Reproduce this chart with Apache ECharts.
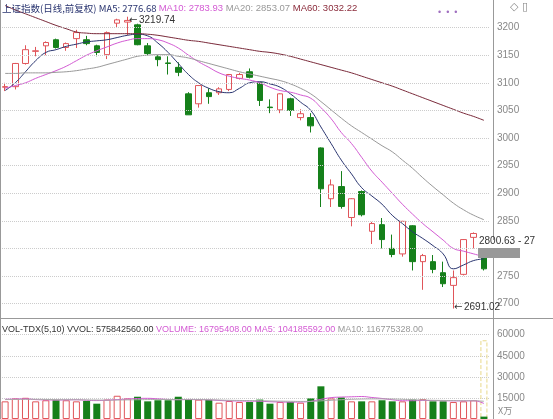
<!DOCTYPE html>
<html>
<head>
<meta charset="utf-8">
<script src="https://cdn.jsdelivr.net/npm/echarts@6/dist/echarts.min.js"></script>
<style>html,body{margin:0;padding:0;background:#fff}#main{width:553px;height:419px}</style>
</head>
<body>
<div id="main"></div>
<script>
// 日线数据 [open, close, low, high]
var dates = [];
for (var i = 1; i <= 48; i++) dates.push('D' + i);
var kData = [
  [3092,3093,3085,3100],[3093,3135,3088,3136],[3135,3160,3133,3168],[3157,3158,3148,3165],
  [3167,3173,3150,3175],[3178,3164,3162,3180],[3164,3171,3158,3173],[3180,3191,3163,3196],
  [3178,3171,3168,3185],[3167,3155,3148,3169],[3151,3191,3143,3193],[3208,3214,3200,3216],
  [3210,3213,3186,3219.74],[3205,3169,3168,3207],[3167,3153,3150,3172],[3147,3142,3130,3150],
  [3136,3135,3115,3148],[3128,3119,3112,3137],[3080,3042,3042,3083],[3062,3095,3055,3096],
  [3082,3075,3062,3090],[3082,3089,3078,3092],[3088,3115,3085,3116],[3108,3115,3106,3118],
  [3120,3110,3108,3126],[3100,3068,3058,3101],[3056,3055,3045,3070],[3051,3080,3045,3081],
  [3071,3050,3040,3073],[3037,3044,3032,3052],[3037,3022,3010,3045],[2982,2908,2875,2983],
  [2890,2915,2875,2925],[2912,2876,2872,2940],[2856,2890,2840,2891],[2903,2861,2858,2905],
  [2831,2845,2808,2848],[2843,2816,2800,2855],[2800,2789,2784,2825],[2790,2849,2785,2850],
  [2841,2776,2760,2842],[2776,2787,2725,2790],[2776,2762,2755,2788],[2756,2736,2730,2776],
  [2733,2747,2691.02,2760],[2753,2816,2751,2817],[2820,2827,2800,2829],[2783,2763,2760,2792]
];
var ma5 = [3086,3100,3120,3140,3155,3160,3166,3170,3174,3176,3178,3182,3186,3188,3185,3172,3155,3135,3115,3100,3090,3084,3082,3090,3100,3102,3098,3092,3080,3065,3050,3020,2990,2960,2935,2910,2895,2880,2860,2845,2830,2818,2805,2790,2763,2770,2778,2781];
var ma10 = [3090,3095,3100,3108,3115,3122,3130,3140,3150,3158,3165,3172,3177,3180,3180,3178,3172,3163,3150,3138,3128,3118,3112,3108,3105,3100,3092,3086,3083,3078,3072,3055,3035,3010,2990,2965,2940,2920,2900,2880,2862,2845,2830,2815,2800,2795,2790,2785];
var ma20 = [3117,3117,3118,3118,3118,3119,3120,3122,3125,3128,3133,3138,3143,3148,3150,3151,3151,3148,3145,3140,3135,3130,3125,3120,3116,3112,3108,3104,3098,3090,3080,3066,3051,3036,3022,3010,2998,2986,2975,2960,2945,2928,2912,2897,2882,2870,2860,2852];
var ma60 = [3240,3232,3225,3218,3211,3204,3198,3192,3190,3189,3189,3189,3189,3189,3188,3186,3183,3180,3177,3175,3172,3169,3166,3163,3160,3157,3155,3152,3148,3143,3138,3133,3128,3123,3118,3112,3106,3100,3094,3087,3080,3073,3066,3059,3052,3045,3039,3032];
// 成交量(万)
var volumes = [12560,14600,15080,12560,13330,13330,13330,12560,12820,10900,13800,16540,14600,15840,12560,13330,13330,15840,14090,13800,13570,11590,12820,12070,12070,13800,10900,12070,12070,11590,14600,23250,14600,15320,12560,12560,12560,13330,12560,12560,13800,14090,12560,12560,12070,12560,13330,1700];
var volMa5 = [14000,14200,14300,13800,13600,13500,13600,13700,13300,13100,13400,13800,14200,14600,14700,14300,13900,13700,13900,13800,13600,13200,12900,12800,12700,12600,12300,12100,12000,12100,12600,14000,15200,15600,15800,16000,15300,14600,13700,13000,13000,13200,13100,13000,12900,12900,13000,11000];
var volMa10 = [13800,13900,14000,14000,13900,13800,13700,13700,13600,13500,13400,13500,13600,13700,13800,13900,13900,13800,13800,13800,13700,13500,13300,13200,13100,13000,12800,12700,12600,12500,12500,12900,13300,13700,14000,14200,14300,14300,14200,14000,13700,13500,13300,13200,13100,13000,13000,12600];
var yTicks = [2700,2750,2800,2850,2900,2950,3000,3050,3100,3150,3200];

var UP = '#e0555a', DOWN = '#15801a';
var volBars = volumes.map(function (v, i) {
  var up = kData[i][1] >= kData[i][0];
  return { value: v, itemStyle: up ? { color: '#fff', borderColor: UP, borderWidth: 1 } : { color: DOWN } };
});
var ghost = volumes.map(function (v, i) { return i === 47 ? 56000 : '-'; });

var chart = echarts.init(document.getElementById('main'));
var font = 'Liberation Sans, Arial, sans-serif';
chart.setOption({
  animation: false,
  backgroundColor: '#fff',
  grid: [
    { left: -1, right: 64, top: 0, height: 331.2 },
    { left: -1, right: 64, top: 317.8, height: 103.2 }
  ],
  xAxis: [
    { type: 'category', data: dates, gridIndex: 0, boundaryGap: true, show: false },
    { type: 'category', data: dates, gridIndex: 1, boundaryGap: true, show: false }
  ],
  yAxis: [
    { gridIndex: 0, position: 'right', min: 2650, max: 3250, interval: 50, offset: 4,
      axisLine: { show: false }, axisTick: { show: false }, splitLine: { show: false },
      axisLabel: { color: '#888', fontSize: 10, fontFamily: font, margin: 4,
        formatter: function (v) { return (v >= 2700 && v <= 3200) ? v : ''; } } },
    { gridIndex: 1, position: 'right', min: 0, max: 72000, interval: 15000, offset: 4,
      axisLine: { show: false }, axisTick: { show: false },
      splitLine: { show: true, lineStyle: { color: '#ccc', type: 'dotted' } },
      axisLabel: { color: '#888', fontSize: 10, fontFamily: font, margin: 4,
        formatter: function (v) { return (v >= 15000 && v <= 60000) ? v : ''; } } }
  ],
  series: [
    { type: 'candlestick', xAxisIndex: 0, yAxisIndex: 0, data: kData, barWidth: 6,
      itemStyle: { color: '#fff', color0: DOWN, borderColor: UP, borderColor0: DOWN, borderWidth: 1 },
      markLine: { silent: true, symbol: 'none', label: { show: false },
        lineStyle: { color: '#ccc', type: 'dotted', width: 1 },
        data: yTicks.map(function (t) { return { yAxis: t }; }) } },
    { type: 'line', data: ma5, symbol: 'none', smooth: true, lineStyle: { color: '#2a3570', width: 1 } },
    { type: 'line', data: ma10, symbol: 'none', smooth: true, lineStyle: { color: '#d35ad3', width: 1 } },
    { type: 'line', data: ma20, symbol: 'none', smooth: true, lineStyle: { color: '#999', width: 1 } },
    { type: 'line', data: ma60, symbol: 'none', smooth: true, lineStyle: { color: '#7a2a3a', width: 1 } },
    { type: 'bar', xAxisIndex: 1, yAxisIndex: 1, data: volBars, barWidth: 7, barGap: '-100%' },
    { type: 'bar', xAxisIndex: 1, yAxisIndex: 1, data: ghost, barWidth: 7, barGap: '-100%', z: 1,
      itemStyle: { color: 'rgba(255,255,255,0)', borderColor: '#e8d88a', borderWidth: 1, borderType: 'dashed' } },
    { type: 'line', xAxisIndex: 1, yAxisIndex: 1, data: volMa5, symbol: 'none', smooth: true, lineStyle: { color: '#d35ad3', width: 1 } },
    { type: 'line', xAxisIndex: 1, yAxisIndex: 1, data: volMa10, symbol: 'none', smooth: true, lineStyle: { color: '#aaa', width: 1 } }
  ],
  graphic: [
    { type: 'rect', shape: { x: 0, y: 318, width: 553, height: 1 }, style: { fill: '#999' }, z: 10 },
    { type: 'rect', shape: { x: 493, y: 0, width: 1, height: 419 }, style: { fill: '#999' }, z: 10 },
    { type: 'rect', shape: { x: 0, y: 0, width: 1, height: 419 }, style: { fill: '#999' }, z: 10 },
    { type: 'rect', shape: { x: 478, y: 248, width: 42, height: 10 }, style: { fill: '#999' }, z: 10 },
    { type: 'text', left: 2, top: 3, z: 20, style: { fontFamily: font, fontSize: 9.5,
      text: '{a|上证指数(日线,前复权) MA5: 2776.68 }{b|MA10: 2783.93 }{c|MA20: 2853.07 }{d|MA60: 3032.22}',
      rich: { a: { fill: '#2a3570', fontSize: 9.5, fontFamily: 'Noto Sans CJK SC, sans-serif' }, b: { fill: '#d35ad3', fontSize: 9.5 },
        c: { fill: '#999', fontSize: 9.5 }, d: { fill: '#8a2a3a', fontSize: 9.5 } } } },
    { type: 'text', left: 2, top: 325, z: 20, style: { fontFamily: font, fontSize: 9,
      text: '{a|VOL-TDX(5,10) VVOL: 575842560.00 }{b|VOLUME: 16795408.00 MA5: 104185592.00 }{c|MA10: 116775328.00}',
      rich: { a: { fill: '#333', fontSize: 9 }, b: { fill: '#d35ad3', fontSize: 9 }, c: { fill: '#999', fontSize: 9 } } } },
    { type: 'text', left: 129, top: 15, z: 20, style: { text: '\u2190', fill: '#333', fontSize: 10, fontFamily: 'DejaVu Sans' } },
    { type: 'text', left: 139, top: 15, z: 20, style: { text: '3219.74', fill: '#333', fontSize: 10, fontFamily: font } },
    { type: 'text', left: 454, top: 302, z: 20, style: { text: '\u2190', fill: '#333', fontSize: 10, fontFamily: 'DejaVu Sans' } },
    { type: 'text', left: 464, top: 302, z: 20, style: { text: '2691.02', fill: '#333', fontSize: 10, fontFamily: font } },
    { type: 'text', left: 479, top: 236, z: 20, style: { text: '2800.63 - 27', fill: '#333', fontSize: 10, fontFamily: font } },
    { type: 'rect', shape: { x: 493, y: 240, width: 60, height: 8 }, style: { fill: '#fff' }, z: 19 },
    { type: 'text', left: 438, top: 8, z: 20, style: { text: '•  •  •', fill: '#a070c0', fontSize: 9 } },
    { type: 'text', left: 510, top: 2, z: 20, style: { text: '◇ ▯', fill: '#888', fontSize: 11, fontFamily: 'DejaVu Sans' } },
    { type: 'text', left: 498, top: 406, z: 20, style: { text: 'X万', fill: '#888', fontSize: 9, fontFamily: 'Noto Sans CJK SC' } }
  ]
});
</script>
</body>
</html>
